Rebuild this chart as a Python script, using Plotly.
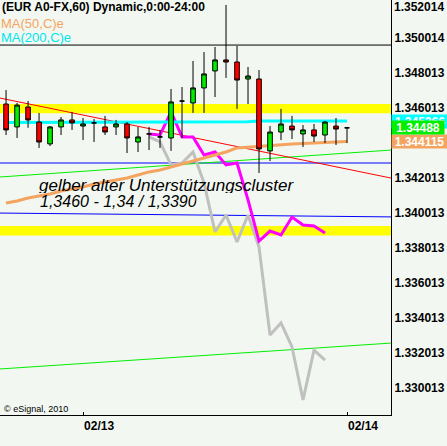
import plotly.graph_objects as go

# ---------------- data ----------------
bars = list(range(32))  # hourly bars, 02/12 17:00 ... 02/14 00:00
opens = [1.34624, 1.34493, 1.34607, 1.34521, 1.34396, 1.34493, 1.34533, 1.34498,
         1.34516, 1.34493, 1.34493, 1.34510, 1.34407, 1.34453, 1.34436, 1.34430,
         1.34641, 1.34630, 1.34716, 1.34813, 1.34876, 1.34864, 1.34767, 1.34767,
         1.34356, 1.34464, 1.34498, 1.34453, 1.34476, 1.34447, 1.34498, 1.34488]
highs = [1.34704, 1.34630, 1.34641, 1.34573, 1.34498, 1.34550, 1.34579, 1.34544,
         1.34538, 1.34556, 1.34533, 1.34521, 1.34493, 1.34493, 1.34476, 1.34710,
         1.34721, 1.34870, 1.34921, 1.34950, 1.35190, 1.34956, 1.34836, 1.34818,
         1.34498, 1.34596, 1.34556, 1.34504, 1.34510, 1.34527, 1.34544, 1.34493]
lows = [1.34447, 1.34430, 1.34488, 1.34373, 1.34384, 1.34447, 1.34476, 1.34418,
        1.34407, 1.34447, 1.34447, 1.34344, 1.34350, 1.34361, 1.34373, 1.34356,
        1.34430, 1.34573, 1.34573, 1.34664, 1.34773, 1.34596, 1.34624, 1.34230,
        1.34298, 1.34418, 1.34424, 1.34378, 1.34407, 1.34401, 1.34390, 1.34401]
closes = [1.34476, 1.34618, 1.34533, 1.34407, 1.34493, 1.34533, 1.34516, 1.34510,
          1.34516, 1.34464, 1.34510, 1.34430, 1.34436, 1.34453, 1.34436, 1.34636,
          1.34641, 1.34716, 1.34796, 1.34876, 1.34864, 1.34761, 1.34784, 1.34367,
          1.34464, 1.34510, 1.34476, 1.34476, 1.34441, 1.34521, 1.34481, 1.34488]

ma50 = [1.34058, 1.34070, 1.34087, 1.34098, 1.34110, 1.34127, 1.34138, 1.34150,
        1.34167, 1.34178, 1.34190, 1.34201, 1.34218, 1.34236, 1.34247, 1.34264,
        1.34281, 1.34298, 1.34316, 1.34333, 1.34350, 1.34373, 1.34378, 1.34384,
        1.34390, 1.34393, 1.34396, 1.34398, 1.34401, 1.34404, 1.34407, 1.34410]
ma200 = [1.34518, 1.34518, 1.34518, 1.34518, 1.34518, 1.34518, 1.34518, 1.34518,
         1.34518, 1.34518, 1.34518, 1.34518, 1.34518, 1.34518, 1.34518, 1.34518,
         1.34522, 1.34522, 1.34522, 1.34522, 1.34522, 1.34522, 1.34522, 1.34527,
         1.34527, 1.34527, 1.34527, 1.34527, 1.34527, 1.34527, 1.34527, 1.34527]

overlay_bars = list(range(13, 30))
magenta_vals = [1.34453, 1.34447, 1.34579, 1.34436, 1.34436, 1.34333, 1.34350, 1.34276,
                1.34287, 1.34076, 1.33841, 1.33898, 1.33876, 1.33978, 1.33933, 1.33927,
                1.33887]
gray_vals = [1.34436, 1.34407, 1.34276, 1.34287, 1.34350, 1.34173, 1.33893, 1.33990,
             1.33836, 1.33990, 1.33807, 1.33304, 1.33373, 1.33236, 1.32933, 1.33218,
             1.33161]

line_x = [-0.55, 35.0]
red_trend = [1.34658, 1.34201]
green_upper = [1.34207, 1.34361]
green_lower = [1.33110, 1.33258]
blue_upper = [1.34287, 1.34287]
blue_lower = [1.34001, 1.33979]
black_level = [1.34961, 1.34961]

yellow_bands = [(1.34571, 1.34624), (1.33873, 1.33927)]

x_range = [-0.55, 35.0]
y_range = [1.32847, 1.352184]
y_tickvals = [1.330013, 1.332013, 1.334013, 1.336013, 1.338013, 1.340013,
              1.342013, 1.346013, 1.348013, 1.350014]
y_ticktext = ["1.330013", "1.332013", "1.334013", "1.336013", "1.338013", "1.340013",
              "1.342013", "1.346013", "1.348013", "1.350014"]
top_tick_text = "1.352014"
x_tickvals = [7, 31]
x_ticktext = ["02/13", "02/14"]

last_ma200 = 1.345266
last_price = 1.34488
last_ma50 = 1.344115

BG = "#F2F8F1"
FONT = "Liberation Sans"

fig = go.Figure()

def hline(xs, ys, color, width):
    fig.add_trace(go.Scatter(x=xs, y=ys, mode="lines",
                             line=dict(color=color, width=width),
                             hoverinfo="skip", showlegend=False))

hline(line_x, black_level, "#000000", 1)
hline(line_x, blue_upper, "#0000FF", 1)
hline(line_x, blue_lower, "#0000FF", 1)
hline(line_x, green_upper, "#00EE00", 1)
hline(line_x, green_lower, "#00EE00", 1)
hline(line_x, red_trend, "#FF0000", 1)
hline(overlay_bars, gray_vals, "#C0C0C0", 3)
hline(overlay_bars, magenta_vals, "#FF00FF", 3)
hline(bars, ma50, "#F4A460", 3)
hline(bars, ma200, "#00FFFF", 3)

# candles split into up / down / doji
groups = {"up": [], "down": [], "doji": []}
for i in bars:
    if closes[i] > opens[i]:
        groups["up"].append(i)
    elif closes[i] < opens[i]:
        groups["down"].append(i)
    else:
        groups["doji"].append(i)
fills = {"up": "#00EE00", "down": "#FF0000", "doji": "#000000"}
for k, idx in groups.items():
    fig.add_trace(go.Candlestick(
        x=[bars[i] for i in idx],
        open=[opens[i] for i in idx], high=[highs[i] for i in idx],
        low=[lows[i] for i in idx], close=[closes[i] for i in idx],
        increasing=dict(line=dict(color="#000000", width=1), fillcolor=fills[k]),
        decreasing=dict(line=dict(color="#000000", width=1), fillcolor=fills[k]),
        whiskerwidth=0, xaxis="x", yaxis="y2", showlegend=False, hoverinfo="skip"))

shapes = []
for lo, hi in yellow_bands:
    shapes.append(dict(type="rect", xref="paper", yref="y", x0=0, x1=1, y0=lo, y1=hi,
                       fillcolor="#FFFF00", line=dict(width=0), layer="below"))

ann = []
def pt(px, py):
    return px / 391.0, 1 - py / 415.0

x0, y0 = pt(1, 7)
ann.append(dict(text="<b>(EUR A0-FX,60) Dynamic,0:00-24:00</b>", x=x0, y=y0,
                font=dict(family=FONT, size=12, color="#000000")))
x0, y0 = pt(0, 23)
ann.append(dict(text="MA(50,C)e", x=x0, y=y0, font=dict(family=FONT, size=13, color="#F4A460")))
x0, y0 = pt(0, 38)
ann.append(dict(text="MA(200,C)e", x=x0, y=y0, font=dict(family=FONT, size=13, color="#00E5EE")))
x0, y0 = pt(38, 185)
ann.append(dict(text="<i>gelber alter Unterstützungscluster</i>", x=x0, y=y0, height=16,
                font=dict(family=FONT, size=17, color="#000000")))
x0, y0 = pt(39, 202)
ann.append(dict(text="<i>1,3460 - 1,34 / 1,3390</i>", x=x0, y=y0, height=15,
                font=dict(family=FONT, size=16, color="#000000")))
x0, y0 = pt(3, 408.5)
ann.append(dict(text="© eSignal, 2010", x=x0, y=y0, font=dict(family=FONT, size=9, color="#000000")))
x0, y0 = pt(393, 7)
ann.append(dict(text="<b>%s</b>" % top_tick_text, x=x0, y=y0,
                font=dict(family=FONT, size=12, color="#000000")))
for a in ann:
    a.update(xref="paper", yref="paper", xanchor="left", yanchor="middle", showarrow=False,
             borderpad=0)

for val, txt, col, w in [(last_ma200, "1.345266", "#00FFFF", 56),
                         (last_ma50, "1.344115", "#F4A460", 55),
                         (last_price, "1.34488", "#00EE00", 52)]:
    ann.append(dict(text="<b>%s</b>" % txt,
                    x=1, xref="paper", y=val, yref="y", xanchor="left", yanchor="middle",
                    showarrow=False, bgcolor=col, borderpad=0, width=w, height=13, align="center",
                    font=dict(family=FONT, size=12, color="#FFFFFF")))

fig.update_layout(
    width=447, height=446,
    margin=dict(l=0, r=56, t=0, b=31),
    paper_bgcolor=BG, plot_bgcolor=BG,
    showlegend=False, boxgap=0.4,
    shapes=shapes, annotations=ann,
    xaxis=dict(range=x_range, tickvals=x_tickvals, ticktext=x_ticktext,
               ticks="inside", ticklen=3, tickcolor="#000000",
               ticklabelposition="outside right",
               tickfont=dict(family=FONT, size=12, color="#000000", weight="bold"),
               showline=True, linecolor="#000000", linewidth=1, showgrid=False,
               zeroline=False, rangeslider=dict(visible=False), fixedrange=True),
    yaxis=dict(range=y_range, side="right", tickvals=y_tickvals, ticktext=y_ticktext,
               ticks="", tickfont=dict(family=FONT, size=12, color="#000000", weight="bold"),
               showline=True, linecolor="#000000", linewidth=1, showgrid=False,
               zeroline=False, fixedrange=True),
    yaxis2=dict(range=y_range, overlaying="y", visible=False, fixedrange=True),
)

fig.write_html("out.html", config={"displayModeBar": False},
               post_script="document.body.style.margin='0';")
